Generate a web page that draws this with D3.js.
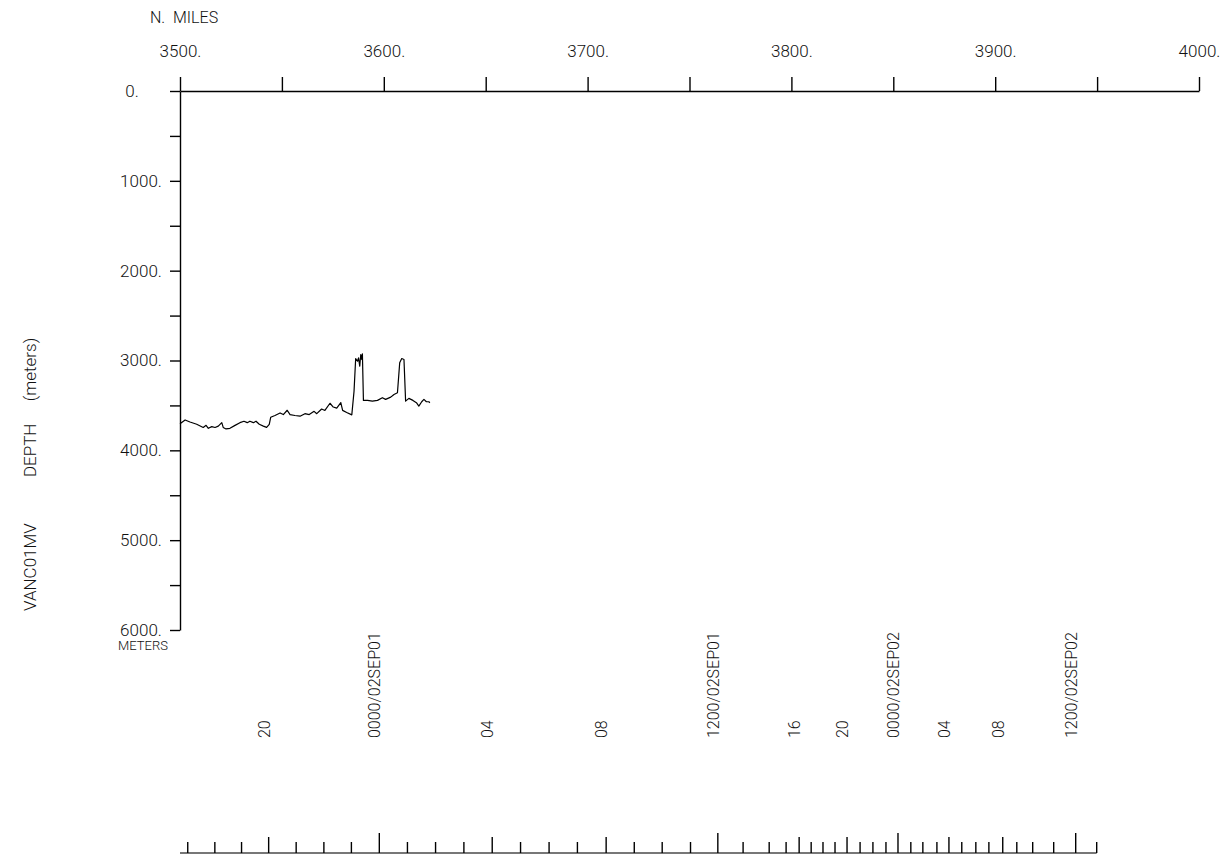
<!DOCTYPE html>
<html>
<head>
<meta charset="utf-8">
<script src="https://cdn.jsdelivr.net/npm/d3@7"></script>
<style>
  html, body { margin: 0; padding: 0; background: #fff; }
  svg text { font-family: Roboto, "Liberation Sans", Arial, sans-serif; font-weight: 300; fill: #111; }
</style>
</head>
<body>
<svg id="chart" width="1232" height="856"></svg>
<script>
// Distance axis (nautical miles along track) and depth axis (metres)
const distanceMajor = [3500, 3600, 3700, 3800, 3900, 4000];
const distanceMinor = [3550, 3650, 3750, 3850, 3950];
const depthMajor = [0, 1000, 2000, 3000, 4000, 5000, 6000];
const depthMinor = [500, 1500, 2500, 3500, 4500, 5500];

// Bathymetry profile: distance along track (n. miles) and depth (m)
const trackMiles = [3500.0, 3502.5, 3504.9, 3508.2, 3511.4, 3512.8, 3513.9, 3515.6, 3517.2, 3518.8,
  3520.5, 3521.2, 3522.6, 3524.5, 3527.0, 3529.4, 3531.4, 3533.0, 3534.3, 3536.0,
  3537.3, 3538.9, 3540.9, 3542.5, 3543.8, 3544.5, 3546.6, 3549.1, 3550.7, 3552.6,
  3554.0, 3556.4, 3558.9, 3561.3, 3563.4, 3565.8, 3567.1, 3569.5, 3571.1, 3573.6,
  3575.2, 3576.9, 3578.9, 3579.8, 3581.8, 3584.3, 3585.4, 3586.2, 3587.1, 3587.6,
  3588.2, 3588.7, 3589.2, 3589.5, 3590.0, 3592.0, 3594.4, 3596.9, 3599.3, 3600.9,
  3603.4, 3605.0, 3606.7, 3607.8, 3608.8, 3609.9, 3610.7, 3612.3, 3614.3, 3616.0,
  3617.2, 3618.6, 3619.7, 3620.9, 3622.1, 3622.6];
const trackDepth = [3705, 3662, 3685, 3710, 3745, 3722, 3755, 3736, 3746, 3730,
  3692, 3745, 3762, 3755, 3722, 3692, 3676, 3692, 3676, 3692,
  3676, 3710, 3730, 3745, 3712, 3632, 3612, 3584, 3602, 3554,
  3602, 3612, 3620, 3592, 3602, 3566, 3592, 3540, 3556, 3476,
  3518, 3530, 3468, 3555, 3578, 3605, 3341, 2978, 3008, 2970,
  3063, 2933, 2989, 2926, 3444, 3444, 3452, 3444, 3414, 3433,
  3408, 3378, 3359, 3026, 2978, 2989, 3452, 3422, 3444, 3470,
  3508, 3459, 3433, 3459, 3459, 3470];

// Hourly time marks: hour of day and the track distance reached at that hour
const markHour = [17, 18, 19, 20, 21, 22, 23, 0, 1, 2, 3, 4, 5, 6, 7, 8, 9, 10, 11, 12,
  13, 14, 15, 16, 17, 18, 19, 20, 21, 22, 23, 0, 1, 2, 3, 4, 5, 6, 7, 8, 9, 10, 11, 12, 13];
const markMiles = [3503.8, 3517.1, 3530.2, 3543.5, 3557.0, 3570.6, 3584.1, 3597.8, 3611.6, 3625.4,
  3639.3, 3653.2, 3667.1, 3681.1, 3695.0, 3709.1, 3722.9, 3736.6, 3750.5, 3763.9,
  3776.3, 3789.1, 3797.4, 3803.8, 3809.7, 3815.5, 3821.4, 3827.3, 3833.7, 3840.0,
  3846.4, 3852.3, 3858.6, 3864.5, 3871.4, 3877.3, 3883.6, 3890.5, 3896.9, 3903.7,
  3910.6, 3918.4, 3928.7, 3939.5, 3949.8];
// Labels for the 4-hourly marks, in order
const timeLabels = ["20", "0000/02SEP01", "04", "08", "1200/02SEP01", "16", "20",
  "0000/02SEP02", "04", "08", "1200/02SEP02"];

const svg = d3.select("#chart");

const x = d3.scaleLinear().domain([3500, 4000]).range([180, 1199]);
const y = d3.scaleLinear().domain([0, 6000]).range([91, 630]);

// Top distance axis
const topAxis = d3.axisTop(x)
  .tickValues(distanceMajor.concat(distanceMinor).sort(d3.ascending))
  .tickSize(14).tickSizeOuter(0).tickPadding(20)
  .tickFormat(d => distanceMajor.includes(d) ? d + "." : "");
const gTop = svg.append("g").attr("transform", "translate(0,91)").call(topAxis);
gTop.selectAll("text").attr("font-size", 17);

svg.append("text").attr("x", 150).attr("y", 23).attr("font-size", 16)
  .style("white-space", "pre").text("N.  MILES");

// Left depth axis
const leftAxis = d3.axisLeft(y)
  .tickValues(depthMajor.concat(depthMinor).sort(d3.ascending))
  .tickSize(10).tickSizeOuter(0).tickPadding(0)
  .tickFormat(d => depthMajor.includes(d) ? d + "." : "");
const gLeft = svg.append("g").attr("transform", "translate(180,0)").call(leftAxis);
gLeft.selectAll("text").attr("font-size", 17).attr("text-anchor", "middle")
  .attr("x", d => (d === 0 ? -48 : -39));

svg.append("text").attr("x", 143).attr("y", 650).attr("font-size", 13)
  .attr("text-anchor", "middle").text("METERS");

[gTop, gLeft].forEach(g => {
  g.select(".domain").attr("stroke", "#000").attr("stroke-width", 1.4);
  g.selectAll(".tick line").attr("stroke", "#000").attr("stroke-width", 1.4);
});

// Vertical axis title, three words spaced along the axis
const titleWords = ["VANC01MV", "DEPTH", "(meters)"];
const titleDepths = [5300, 4000, 3100];
svg.append("g").selectAll("text").data(titleWords).join("text")
  .attr("transform", (d, i) => `translate(36,${y(titleDepths[i])}) rotate(-90)`)
  .attr("text-anchor", "middle").attr("font-size", 17)
  .text(d => d);

// Depth profile
const line = d3.line().x((d, i) => x(trackMiles[i])).y(d => y(d));
svg.append("path")
  .attr("d", line(trackDepth))
  .attr("fill", "none").attr("stroke", "#000").attr("stroke-width", 1.2)
  .attr("stroke-linejoin", "round");

// Time marks along the track
const baseY = 853;
svg.append("line")
  .attr("x1", x(3500)).attr("x2", x(markMiles[markMiles.length - 1]))
  .attr("y1", baseY).attr("y2", baseY)
  .attr("stroke", "#777").attr("stroke-width", 2);

const tickLen = h => (h % 12 === 0 ? 20 : h % 4 === 0 ? 16 : 11);
svg.append("g").selectAll("line").data(markHour).join("line")
  .attr("x1", (h, i) => x(markMiles[i])).attr("x2", (h, i) => x(markMiles[i]))
  .attr("y1", baseY).attr("y2", h => baseY - tickLen(h))
  .attr("stroke", "#000").attr("stroke-width", 1.4);

const labelled = markHour.map((h, i) => ({ h, m: markMiles[i] })).filter(d => d.h % 4 === 0);
svg.append("g").selectAll("text").data(labelled).join("text")
  .attr("transform", d => `translate(${x(d.m) + 1},738) rotate(-90)`)
  .attr("font-size", 16)
  .text((d, i) => timeLabels[i]);
</script>
</body>
</html>
